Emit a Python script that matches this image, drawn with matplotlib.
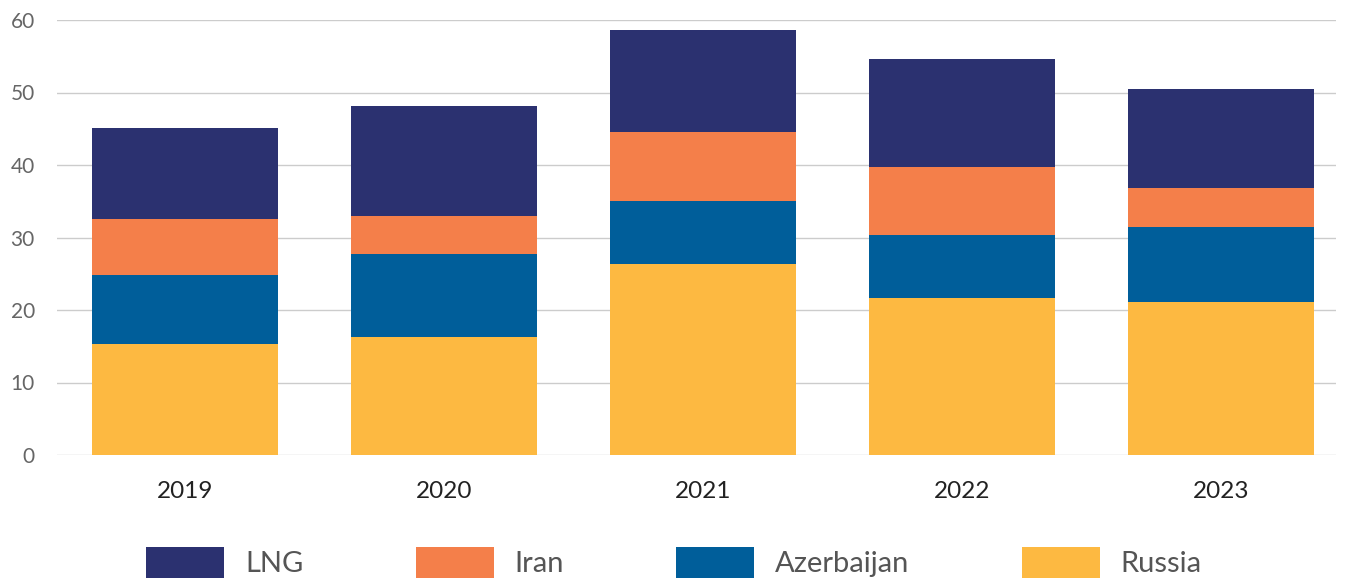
import matplotlib
matplotlib.use("Agg")
import matplotlib.pyplot as plt
import numpy as np

years = ["2019", "2020", "2021", "2022", "2023"]
russia = [15.3, 16.3, 26.3, 21.7, 21.1]
azerbaijan = [9.5, 11.4, 8.7, 8.6, 10.3]
iran = [7.8, 5.3, 9.6, 9.4, 5.4]
lng = [12.5, 15.1, 14.0, 14.9, 13.7]

plt.rcParams['font.family'] = ['Lato', 'DejaVu Sans']

fig = plt.figure(figsize=(13.48, 5.8), dpi=100)
ax = fig.add_axes([57/1348, 1-455/580, (1336-57)/1348, 435/580])

x = np.arange(len(years))
w = 0.72
series = [("Russia", russia, "#FDB941"),
          ("Azerbaijan", azerbaijan, "#005E9A"),
          ("Iran", iran, "#F47F4A"),
          ("LNG", lng, "#2B3170")]
bottom = np.zeros(len(years))
handles = {}
for name, vals, col in series:
    b = ax.bar(x, vals, w, bottom=bottom, color=col, zorder=3, label=name)
    handles[name] = b
    bottom += np.array(vals)

ax.set_ylim(0, 60)
ax.set_xlim(-0.494, 4.444)
ax.set_yticks(range(0, 61, 10))
ax.grid(axis='y', color='#cccccc', lw=1, zorder=0)
for s in ax.spines.values():
    s.set_visible(False)
ax.set_xticks(x)
ax.set_xticklabels(years)
ax.tick_params(axis='x', length=0, pad=19, labelsize=17.5, labelcolor='#222222')
ax.tick_params(axis='y', length=0, pad=16, labelsize=15, labelcolor='#666666')

fs = 21
px = fs * 100 / 72
order = ["LNG", "Iran", "Azerbaijan", "Russia"]
leg = fig.legend([handles[n] for n in order], order, loc='upper center',
                 bbox_to_anchor=(0.5, 33/580), ncol=4, frameon=False,
                 fontsize=fs, handlelength=78/px, handleheight=36/px,
                 handletextpad=21/px, columnspacing=112/px, borderpad=0,
                 borderaxespad=0, labelcolor='#555555')

fig.savefig("out.png", dpi=100)
